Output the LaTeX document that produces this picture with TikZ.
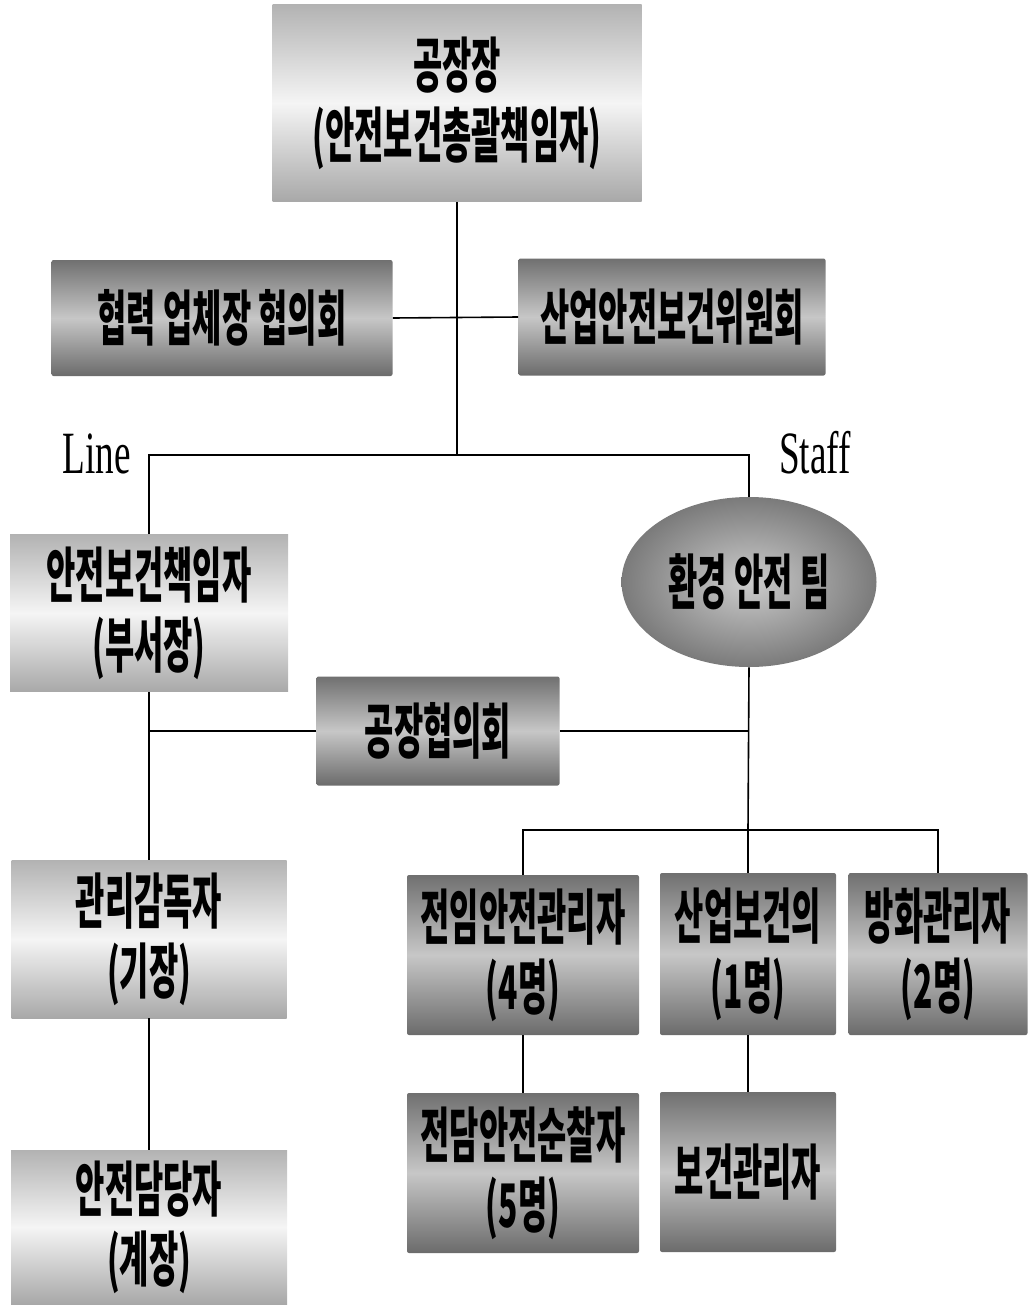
\documentclass[tikz,border=0pt]{standalone}
\usepackage{fontspec}
\newfontfamily\kr[FakeStretch=0.53]{Noto Sans CJK KR}
\newfontfamily\narrowserif[FakeStretch=0.62]{Liberation Serif}
\usetikzlibrary{shapes.geometric}
\begin{document}
\begin{tikzpicture}[x=0.5pt,y=-0.5pt,
  box/.style={inner sep=0pt,align=center,font=\kr\bfseries\fontsize{30}{35}\selectfont},
  lightbox/.style={box,rectangle,top color=black!30,bottom color=black!34,middle color=black!4},
  darkbox/.style={box,rectangle,rounded corners=1pt,top color=black!56,bottom color=black!58,middle color=black!22},
  team/.style={box,ellipse,inner color=black!20,outer color=black!52},
  lbl/.style={font=\narrowserif\fontsize{30}{30}\selectfont,anchor=base},
  conn/.style={line width=0.8pt}]
\useasboundingbox (0,0) rectangle (1030,1306);
\node[lightbox,minimum width=184.5pt,minimum height=98.5pt] (chief) at (457,103) {공장장\\(안전보건총괄책임자)};
\node[darkbox,minimum width=170.5pt,minimum height=58pt] (partners) at (222,318) {협력 업체장 협의회};
\node[darkbox,minimum width=153.5pt,minimum height=58.5pt] (committee) at (672,317) {산업안전보건위원회};
\node[lbl] (linelbl) at (97,473) {Line};
\node[lbl] (stafflbl) at (815,473) {Staff};
\node[lightbox,minimum width=139pt,minimum height=78.5pt] (linehead) at (149,613) {안전보건책임자\\(부서장)};
\node[team,minimum width=127.5pt,minimum height=85pt] (envteam) at (749,582) {환경 안전 팀};
\node[darkbox,minimum width=121.5pt,minimum height=54.5pt] (factorycouncil) at (438,731) {공장협의회};
\node[lightbox,minimum width=137.5pt,minimum height=79pt] (supervisor) at (149,939) {관리감독자\\(기장)};
\node[lightbox,minimum width=138pt,minimum height=77pt] (safetyofficer) at (149,1227) {안전담당자\\(계장)};
\node[darkbox,minimum width=116pt,minimum height=80pt] (fulltime) at (523,955) {전임안전관리자\\(4명)};
\node[darkbox,minimum width=88pt,minimum height=81pt] (physician) at (748,954) {산업보건의\\(1명)};
\node[darkbox,minimum width=89.5pt,minimum height=81pt] (fireman) at (938,954) {방화관리자\\(2명)};
\node[darkbox,minimum width=116pt,minimum height=80pt] (patrol) at (523,1173) {전담안전순찰자\\(5명)};
\node[darkbox,minimum width=88pt,minimum height=80pt] (healthmgr) at (748,1172) {보건관리자};
\coordinate (lsjoin) at (457,455);
\coordinate (staffjoin) at (748,830);
\draw[conn] (chief.south) -- (lsjoin);
\draw[conn] (partners.east) -- (committee.west);
\draw[conn] (linehead.north) |- (lsjoin) -| (envteam.north);
\draw[conn] (linehead.south) -- (supervisor.north);
\draw[conn] (supervisor.south) -- (safetyofficer.north);
\draw[conn] (factorycouncil.west) -- (factorycouncil.west -| linehead.south);
\draw[conn] (factorycouncil.east) -- (factorycouncil.east -| envteam.south);
\draw[conn] (envteam.south) -- (staffjoin);
\draw[conn] (fulltime.north) |- (staffjoin) -| (fireman.north);
\draw[conn] (staffjoin) -- (physician.north);
\draw[conn] (fulltime.south) -- (patrol.north);
\draw[conn] (physician.south) -- (healthmgr.north);
\end{tikzpicture}
\end{document}
